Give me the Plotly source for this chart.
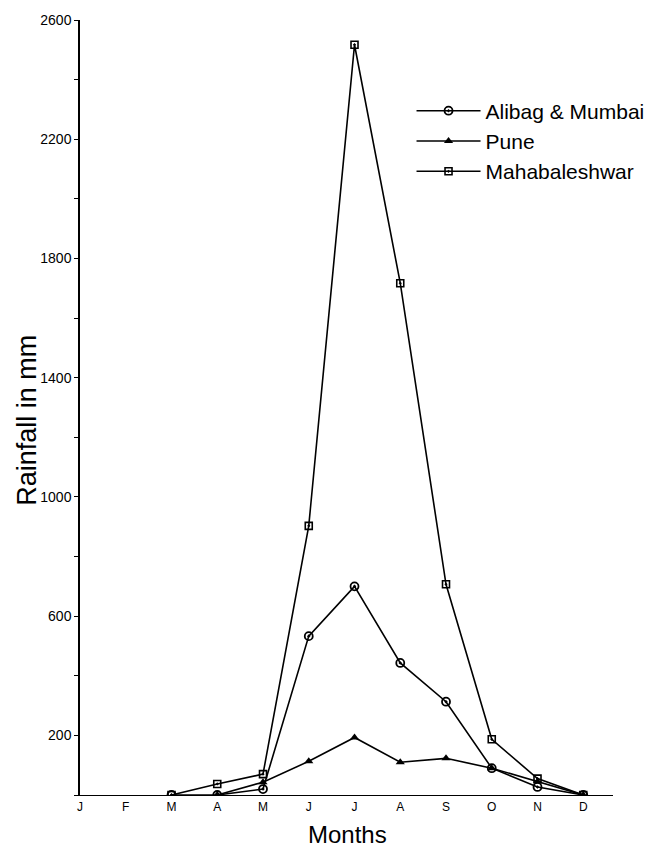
import plotly.graph_objects as go

months = ["J", "F", "M", "A", "M", "J", "J", "A", "S", "O", "N", "D"]
month_idx = list(range(12))

# Rainfall (mm), None where the series is not drawn
alibag = [None, None, 0, 0, 20, 533, 700, 443, 313, 90, 27, 0]
pune = [None, None, None, 0, 43, 113, 193, 110, 123, 90, 45, 0]
mahabaleshwar = [None, None, 0, 37, 70, 903, 2517, 1717, 707, 187, 55, 0]

y_tick_vals = [200, 600, 1000, 1400, 1800, 2200, 2600]

fig = go.Figure()
fig.add_trace(go.Scatter(
    x=month_idx, y=alibag, name="Alibag & Mumbai", mode="lines+markers",
    line=dict(color="black", width=1.6),
    marker=dict(symbol="circle-open-dot", size=8, color="black", line=dict(width=1.8)),
    connectgaps=False))
fig.add_trace(go.Scatter(
    x=month_idx, y=pune, name="Pune", mode="lines+markers",
    line=dict(color="black", width=1.6),
    marker=dict(symbol="triangle-up", size=8, color="black"),
    connectgaps=False))
fig.add_trace(go.Scatter(
    x=month_idx, y=mahabaleshwar, name="Mahabaleshwar", mode="lines+markers",
    line=dict(color="black", width=1.6),
    marker=dict(symbol="square-open-dot", size=7, color="black", line=dict(width=1.6)),
    connectgaps=False))

fig.update_layout(
    width=665, height=853,
    margin=dict(l=80, r=52, t=15, b=58),
    paper_bgcolor="white", plot_bgcolor="white",
    font=dict(family="Liberation Sans, Arial, sans-serif", color="black"),
    showlegend=True,
    legend=dict(
        x=0.622, y=0.909, xanchor="left", yanchor="top",
        font=dict(size=21, family="Liberation Sans, Arial, sans-serif"),
        bgcolor="rgba(0,0,0,0)", itemwidth=64, tracegroupgap=0,
    ),
    xaxis=dict(
        range=[0, 11.65], tickvals=month_idx, ticktext=months,
        showgrid=False, zeroline=False, showline=True, linecolor="black", linewidth=1.2,
        ticks="", tickfont=dict(size=12, family="Liberation Sans Narrow, Liberation Sans, sans-serif"),
    ),
    yaxis=dict(
        range=[0, 2600], tickvals=y_tick_vals,
        showgrid=False, zeroline=False, showline=True, linecolor="black", linewidth=1.5,
        ticks="outside", ticklen=4, tickwidth=1, tickcolor="black",
        minor=dict(tick0=0, dtick=200, ticks="outside", ticklen=4, tickcolor="black", showgrid=False),
        tickfont=dict(size=14, family="Liberation Sans, Arial, sans-serif"),
    ),
    annotations=[
        dict(text="Rainfall in mm", xref="paper", yref="paper", x=-0.0994, y=0.483,
             textangle=-90, showarrow=False, xanchor="center", yanchor="middle",
             font=dict(size=27)),
        dict(text="Months", xref="paper", yref="paper", x=0.501, y=-0.0513,
             showarrow=False, xanchor="center", yanchor="middle",
             font=dict(size=24)),
    ],
)

fig.write_html("out.html")
